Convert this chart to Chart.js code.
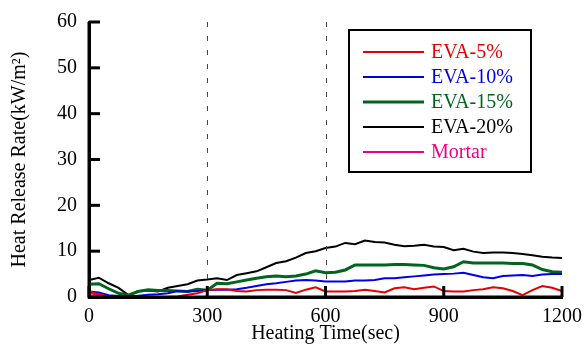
<!DOCTYPE html>
<html>
<head>
<meta charset="utf-8">
<script src="https://cdn.jsdelivr.net/npm/chart.js@4/dist/chart.umd.min.js"></script>
<style>
  html, body { margin: 0; padding: 0; background: #fff; }
  #wrap { width: 584px; height: 349px; }
</style>
</head>
<body>
<div id="wrap"><canvas id="hrrChart" width="584" height="349"></canvas></div>
<script>
// heating time (sec)
const time = [0, 25, 50, 75, 100, 125, 150, 175, 200, 225, 250, 275, 300, 325, 350, 375, 400, 425, 450, 475,
    500, 525, 550, 575, 600, 625, 650, 675, 700, 725, 750, 775, 800, 825, 850, 875, 900, 925, 950, 975,
    1000, 1025, 1050, 1075, 1100, 1125, 1150, 1175, 1200];

// heat release rate (kW/m2)
const eva5 = [1.2, 0.6, 0.1, 0, 0, 0, 0, 0, 0, 0.1, 0.5, 0.8, 1.5, 1.7, 1.7, 1.3, 1.2, 1.5, 1.6, 1.6,
    1.5, 0.9, 1.6, 2.1, 1.2, 1.2, 1.2, 1.3, 1.6, 1.3, 1.0, 1.9, 2.1, 1.7, 2.0, 2.3, 1.3, 1.2, 1.2, 1.5,
    1.7, 2.1, 1.9, 1.3, 0.4, 1.5, 2.4, 2.0, 1.3];
const eva10 = [1.2, 1.0, 0.4, 0.2, 0.2, 0.3, 0.5, 0.6, 0.8, 1.3, 1.2, 1.3, 1.5, 1.6, 1.6, 1.7, 2.0, 2.4, 2.8, 3.0,
    3.3, 3.6, 3.7, 3.6, 3.4, 3.4, 3.4, 3.6, 3.6, 3.7, 4.1, 4.1, 4.3, 4.5, 4.7, 4.9, 5.0, 5.1, 5.3, 4.8,
    4.3, 4.1, 4.6, 4.7, 4.8, 4.6, 4.9, 5.0, 5.0];
const eva15 = [2.8, 2.9, 1.8, 0.8, 0.4, 1.2, 1.6, 1.4, 1.4, 1.3, 1.2, 1.7, 1.5, 3.0, 2.9, 3.3, 3.7, 4.1, 4.4, 4.6,
    4.4, 4.6, 5.0, 5.7, 5.3, 5.4, 5.9, 7.0, 7.0, 7.0, 7.0, 7.1, 7.1, 7.0, 6.9, 6.4, 6.1, 6.6, 7.7, 7.4,
    7.4, 7.4, 7.4, 7.3, 7.3, 7.0, 6.0, 5.5, 5.4];
const eva20 = [3.7, 4.2, 3.0, 2.0, 0.4, 1.3, 1.4, 1.2, 2.0, 2.4, 2.8, 3.6, 3.8, 4.1, 3.7, 4.8, 5.2, 5.6, 6.5, 7.4,
    7.8, 8.6, 9.6, 10.0, 10.7, 11.0, 11.8, 11.5, 12.3, 12.0, 11.9, 11.4, 11.1, 11.2, 11.4, 11.0, 10.9, 10.2, 10.5, 9.9,
    9.6, 9.7, 9.7, 9.6, 9.4, 9.1, 8.8, 8.6, 8.5];
const mortar = [0.9, 0.4, 0, 0, 0, 0, 0, 0, 0, 0, 0, 0, 0, 0, 0, 0, 0, 0, 0, 0,
    0, 0, 0, 0, 0, 0, 0, 0, 0, 0, 0, 0, 0, 0, 0, 0, 0, 0, 0, 0,
    0, 0, 0, 0, 0, 0, 0, 0, 0];

const xTicks = [0, 300, 600, 900, 1200];
const yTicks = [0, 10, 20, 30, 40, 50, 60];
const markTimes = [300, 600];

const serif = "'Liberation Serif', 'Times New Roman', serif";

function toPoints(values) {
    return values.map((v, i) => ({ x: time[i], y: v }));
}

// tick marks inside the plot + dashed marker lines
const innerTicks = {
    id: 'innerTicks',
    afterDatasetsDraw(chart) {
        const ctx = chart.ctx;
        const xs = chart.scales.x;
        const ys = chart.scales.y;
        const area = chart.chartArea;
        ctx.save();
        ctx.strokeStyle = '#444';
        ctx.lineWidth = 1;
        ctx.setLineDash([5, 9]);
        markTimes.forEach(t => {
            const px = Math.round(xs.getPixelForValue(t)) + 0.5;
            ctx.beginPath();
            ctx.moveTo(px, area.top);
            ctx.lineTo(px, area.bottom);
            ctx.stroke();
        });
        ctx.setLineDash([]);
        ctx.strokeStyle = '#000';
        ctx.lineWidth = 3;
        yTicks.forEach(v => {
            const py = ys.getPixelForValue(v);
            ctx.beginPath();
            ctx.moveTo(area.left, py);
            ctx.lineTo(area.left + 11, py);
            ctx.stroke();
        });
        xTicks.forEach(t => {
            const px = xs.getPixelForValue(t);
            ctx.beginPath();
            ctx.moveTo(px, area.bottom);
            ctx.lineTo(px, area.bottom - 11);
            ctx.stroke();
        });
        // axis lines on top of the data
        ctx.beginPath();
        ctx.moveTo(area.left, area.top);
        ctx.lineTo(area.left, area.bottom);
        ctx.lineTo(area.right, area.bottom);
        ctx.stroke();
        ctx.restore();
    }
};

// boxed legend in the upper right
const boxLegend = {
    id: 'boxLegend',
    afterDraw(chart) {
        const ctx = chart.ctx;
        ctx.save();
        ctx.strokeStyle = '#000';
        ctx.lineWidth = 2;
        ctx.strokeRect(349, 30, 182, 142);
        ctx.font = '20px ' + serif;
        ctx.textBaseline = 'middle';
        chart.data.datasets.forEach((ds, i) => {
            const y = 52 + i * 25;
            ctx.strokeStyle = ds.borderColor;
            ctx.lineWidth = ds.borderWidth;
            ctx.beginPath();
            ctx.moveTo(363, y);
            ctx.lineTo(424, y);
            ctx.stroke();
            ctx.fillStyle = ds.borderColor;
            ctx.fillText(ds.label, 431, y + 1);
        });
        ctx.restore();
    }
};

const ctx = document.getElementById('hrrChart').getContext('2d');
new Chart(ctx, {
    type: 'line',
    data: {
        datasets: [
            { label: 'EVA-5%', data: toPoints(eva5), borderColor: '#e60000', borderWidth: 2 },
            { label: 'EVA-10%', data: toPoints(eva10), borderColor: '#0000e6', borderWidth: 2 },
            { label: 'EVA-15%', data: toPoints(eva15), borderColor: '#00661f', borderWidth: 3 },
            { label: 'EVA-20%', data: toPoints(eva20), borderColor: '#000000', borderWidth: 2 },
            { label: 'Mortar', data: toPoints(mortar), borderColor: '#f0007f', borderWidth: 2 }
        ]
    },
    options: {
        responsive: false,
        animation: false,
        devicePixelRatio: 1,
        elements: {
            point: { radius: 0 },
            line: { tension: 0, fill: false }
        },
        layout: { padding: { top: 22, right: 22, left: 0, bottom: 0 } },
        plugins: {
            legend: { display: false },
            tooltip: { enabled: false }
        },
        scales: {
            x: {
                type: 'linear',
                min: 0,
                max: 1200,
                afterFit: scale => {
                    scale.height = 52;
                    scale.paddingLeft = 0;
                    scale.paddingRight = 0;
                },
                afterBuildTicks: scale => { scale.ticks = xTicks.map(v => ({ value: v })); },
                ticks: {
                    color: '#000',
                    padding: 8,
                    font: { family: serif, size: 20 },
                    callback: v => String(v)
                },
                grid: { display: true, drawOnChartArea: false, drawTicks: false },
                border: { display: true, color: '#000', width: 3 },
                title: {
                    display: true,
                    text: 'Heating Time(sec)',
                    color: '#000',
                    font: { family: serif, size: 20 },
                    padding: { top: 0, bottom: 3 }
                }
            },
            y: {
                type: 'linear',
                min: 0,
                max: 60,
                afterFit: scale => {
                    scale.width = 89;
                    scale.paddingTop = 0;
                    scale.paddingBottom = 0;
                },
                afterBuildTicks: scale => { scale.ticks = yTicks.map(v => ({ value: v })); },
                ticks: {
                    color: '#000',
                    padding: 12,
                    font: { family: serif, size: 20 },
                    callback: v => String(v)
                },
                grid: { display: true, drawOnChartArea: false, drawTicks: false },
                border: { display: true, color: '#000', width: 3 },
                title: {
                    display: true,
                    text: 'Heat Release Rate(kW/m²)',
                    color: '#000',
                    font: { family: serif, size: 20 },
                    padding: { top: 8, bottom: 0 }
                }
            }
        }
    },
    plugins: [innerTicks, boxLegend]
});
</script>
</body>
</html>
